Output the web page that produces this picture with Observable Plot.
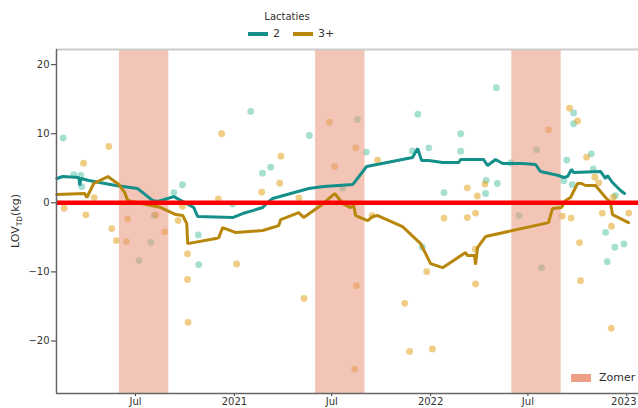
<!DOCTYPE html>
<html>
<head>
<meta charset="utf-8">
<script src="https://cdn.jsdelivr.net/npm/d3@7"></script>
<script src="https://cdn.jsdelivr.net/npm/@observablehq/plot@0.6"></script>
<style>
  html, body { margin: 0; padding: 0; background: #fff; }
  #wrap { position: relative; width: 638px; height: 408px; overflow: hidden; font-family: "DejaVu Sans", sans-serif; color: #333; }
  .abs { position: absolute; white-space: nowrap; }
</style>
</head>
<body>
<div id="wrap">
  <div id="chart" class="abs" style="left:0;top:0"></div>
  <div class="abs" style="left:237px;top:11px;width:100px;text-align:center;font-size:10px;line-height:12px;">Lactaties</div>
  <div class="abs" style="left:248px;top:32px;width:20px;height:4px;background:#148f89"></div>
  <div class="abs" style="left:273px;top:27px;font-size:11px;line-height:13px;">2</div>
  <div class="abs" style="left:293px;top:32px;width:20px;height:4px;background:#b8860b"></div>
  <div class="abs" style="left:318px;top:27px;font-size:11px;line-height:13px;">3+</div>
  <div class="abs" style="left:571px;top:374px;width:20px;height:8px;background:#ec9f86"></div>
  <div class="abs" style="left:599px;top:371px;font-size:11px;line-height:14px;">Zomer</div>
</div>
<script>
// ---- data (dates as decimal years, values in kg) ----
const lineYears2 = [2020.095,2020.125,2020.207,2020.212,2020.217,2020.258,2020.395,2020.507,2020.584,2020.609,2020.691,2020.793,2020.813,2020.991,2021.042,2021.093,2021.144,2021.175,2021.195,2021.379,2021.455,2021.603,2021.674,2021.908,2021.934,2021.954,2021.990,2022.061,2022.143,2022.153,2022.270,2022.290,2022.331,2022.367,2022.423,2022.469,2022.535,2022.560,2022.652,2022.678,2022.698,2022.718,2022.729,2022.866,2022.892,2022.902,2022.927,2022.968,2022.988];
const lineVals2  = [3.52,3.81,3.67,2.51,3.52,3.23,2.51,2.07,0.33,0.19,0.91,-0.68,-1.99,-2.13,-1.55,-1.12,-0.68,0.19,0.62,2.07,2.36,2.65,5.26,6.57,7.87,6.13,6.13,5.84,5.84,6.28,6.28,5.41,6.28,5.70,5.70,5.70,5.55,4.54,3.96,3.67,3.81,4.83,4.39,4.54,3.52,3.96,2.94,1.78,1.35];

const lineYears3 = [2020.095,2020.237,2020.248,2020.283,2020.355,2020.411,2020.441,2020.456,2020.625,2020.701,2020.737,2020.757,2020.762,2020.905,2020.920,2020.940,2021.007,2021.144,2021.226,2021.236,2021.328,2021.353,2021.440,2021.511,2021.552,2021.592,2021.608,2021.618,2021.679,2021.705,2021.730,2021.857,2021.949,2022.000,2022.061,2022.178,2022.188,2022.224,2022.229,2022.239,2022.280,2022.601,2022.621,2022.667,2022.688,2022.713,2022.749,2022.769,2022.790,2022.840,2022.892,2022.917,2022.927,2023.009];
const lineVals3  = [1.20,1.35,0.77,2.80,3.81,2.65,1.49,0.33,-0.68,-1.70,-1.84,-3.00,-5.90,-5.17,-5.03,-3.58,-4.30,-4.01,-3.29,-2.42,-1.41,-2.13,-0.39,1.35,-0.10,-0.68,-0.39,-1.84,-2.57,-1.99,-1.84,-3.43,-5.90,-8.80,-9.38,-7.20,-7.64,-7.64,-8.94,-6.48,-4.88,-2.86,-0.83,-0.68,0.33,0.77,2.80,2.80,2.51,2.51,0.77,0.04,-1.70,-2.86];

const ptYears2 = [2020.127,2020.181,2020.217,2020.222,2020.514,2020.574,2020.591,2020.692,2020.735,2020.816,2020.818,2020.990,2021.083,2021.143,2021.185,2021.382,2021.552,2021.627,2021.672,2021.907,2021.935,2021.991,2022.068,2021.958,2022.153,2022.153,2022.280,2022.283,2022.340,2022.335,2022.408,2022.450,2022.540,2022.566,2022.694,2022.679,2022.722,2022.729,2022.729,2022.819,2022.829,2022.942,2022.892,2022.939,2022.900,2022.985];
const ptVals2  = [9.39,4.10,3.96,2.36,-8.36,-5.71,-1.84,1.49,2.62,-4.64,-8.94,-0.17,13.23,4.29,5.16,9.75,2.14,12.03,7.33,7.51,12.84,7.97,1.49,-6.43,10.0,7.48,1.35,3.26,2.80,16.67,5.77,-1.84,7.70,-9.38,6.19,3.19,2.65,13.01,11.45,7.10,4.93,1.06,-4.26,-6.43,-8.51,-5.94];

const ptYears3 = [2020.132,2020.231,2020.243,2020.285,2020.360,2020.375,2020.398,2020.449,2020.456,2020.599,2020.645,2020.713,2020.735,2020.761,2020.761,2020.764,2020.918,2020.935,2021.011,2021.139,2021.231,2021.237,2021.329,2021.355,2021.484,2021.511,2021.618,2021.622,2021.613,2021.702,2021.730,2021.868,2021.893,2021.980,2022.009,2022.068,2022.187,2022.187,2022.229,2022.238,2022.228,2022.229,2022.277,2022.601,2022.672,2022.708,2022.716,2022.749,2022.759,2022.764,2022.795,2022.837,2022.857,2022.875,2022.922,2022.931,2022.921,2023.010];
const ptVals3  = [-0.78,5.74,-1.74,0.77,8.16,-3.72,-5.46,-5.61,-2.35,-1.74,-4.20,-2.57,-0.51,-7.39,-11.09,-17.30,0.58,10.0,-8.84,1.54,2.84,6.75,0.70,-13.83,11.68,5.26,7.97,-11.99,-24.06,-1.84,6.17,-14.55,-21.51,-9.96,-21.16,-2.20,2.17,-2.13,-1.48,0.99,-6.70,-11.74,2.72,10.59,-1.91,13.71,-2.20,11.86,-5.75,-11.26,6.61,3.71,2.90,-1.48,-3.39,0.81,-18.17,-1.48];

const summerStart = ["2020-06-01","2021-06-01","2022-06-01"];
const summerEnd   = ["2020-09-01","2021-09-01","2022-09-01"];

const xTickDates  = ["2020-07-01","2021-01-01","2021-07-01","2022-01-01","2022-07-01","2023-01-01"];
const xTickLabels = ["Jul","2021","Jul","2022","Jul","2023"];
const yTicks = [-20,-10,0,10,20];

const xDomain = [new Date("2020-02-05T00:00Z"), new Date("2023-01-22T18:00Z")];
const yDomain = [-27.6, 22.2];

// ---- build tables ----
const toDate = y => new Date(Date.UTC(2021,0,1) + (y - 2021) * 365 * 864e5);
const line2 = lineYears2.map((t,i) => ({date: toDate(t), v: lineVals2[i]}));
const line3 = lineYears3.map((t,i) => ({date: toDate(t), v: lineVals3[i]}));
const pts2 = ptYears2.map((t,i) => ({date: toDate(t), v: ptVals2[i]}));
const pts3 = ptYears3.map((t,i) => ({date: toDate(t), v: ptVals3[i]}));
const summers = summerStart.map((s,i) => ({start: new Date(s+"T00:00Z"), end: new Date(summerEnd[i]+"T00:00Z")}));
const tickDates = xTickDates.map(d => new Date(d+"T00:00Z"));
const tickLabelMap = new Map(tickDates.map((d,i) => [+d, xTickLabels[i]]));

const chart = Plot.plot({
  width: 638,
  height: 408,
  marginLeft: 56,
  marginRight: 0,
  marginTop: 49,
  marginBottom: 15,
  style: {fontFamily: "DejaVu Sans", fontSize: "10px", color: "#333", background: "transparent"},
  x: {type: "utc", domain: xDomain, ticks: tickDates, tickFormat: d => tickLabelMap.get(+d) ?? "", tickSize: 3, tickPadding: 1, label: null},
  y: {domain: yDomain, ticks: yTicks, tickFormat: d => d < 0 ? "\u2212" + Math.abs(d) : String(d), tickSize: 5, tickPadding: 2, label: null},
  marks: [
    Plot.dot(pts2, {x: "date", y: "v", r: 3.4, fill: "#4bbf9f", fillOpacity: 0.5, stroke: "none"}),
    Plot.dot(pts3, {x: "date", y: "v", r: 3.4, fill: "#e19b0b", fillOpacity: 0.5, stroke: "none"}),
    Plot.rect(summers, {x1: "start", x2: "end", fill: "#e9967a", fillOpacity: 0.55}),
    Plot.line(line2, {x: "date", y: "v", stroke: "#148f89", strokeWidth: 3, strokeLinejoin: "miter"}),
    Plot.line(line3, {x: "date", y: "v", stroke: "#b8860b", strokeWidth: 3, strokeLinejoin: "miter"}),
    Plot.ruleY([0], {stroke: "#ff0000", strokeWidth: 4.5}),
    Plot.ruleY([yDomain[1]], {stroke: "#cccccc", strokeWidth: 2}),
    Plot.ruleY([yDomain[0]], {stroke: "#666666", strokeWidth: 1.5}),
    Plot.ruleX([xDomain[0]], {stroke: "#666666", strokeWidth: 1.5})
  ]
});
document.getElementById("chart").appendChild(chart);

const svg = d3.select(chart);
// keep the last x tick label ("2023") inside the picture edge
const xLabels = svg.selectAll("[aria-label='x-axis tick label'] text").nodes();
if (xLabels.length) d3.select(xLabels[xLabels.length - 1]).attr("dx", -3);

// y-axis label with subscript
const lab = svg.append("text")
  .attr("transform", "translate(19,221) rotate(-90)")
  .attr("text-anchor", "middle")
  .attr("fill", "#333")
  .style("font-family", "DejaVu Sans")
  .style("font-size", "11px");
lab.append("tspan").text("LOV");
lab.append("tspan").attr("dy", "3").style("font-size", "7.5px").text("TD");
lab.append("tspan").attr("dy", "-3").text("(kg)");
</script>
</body>
</html>
